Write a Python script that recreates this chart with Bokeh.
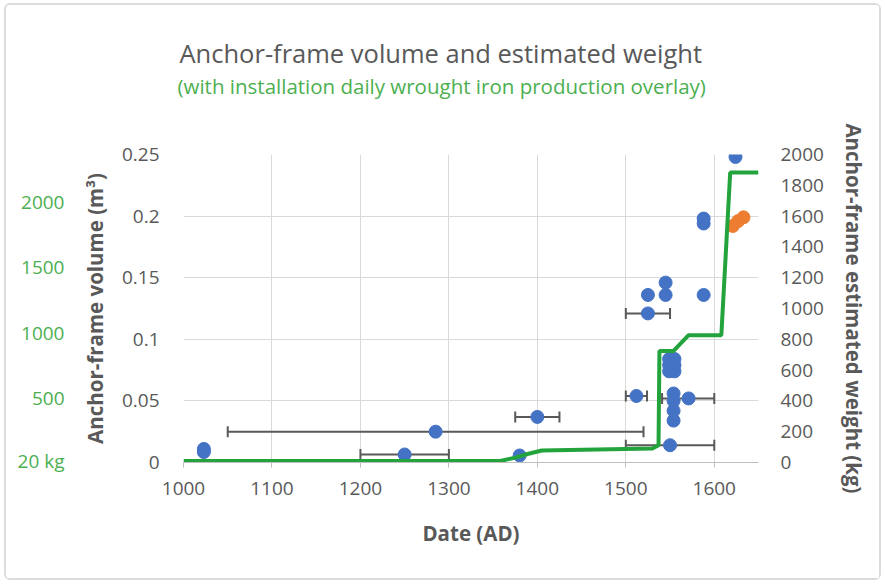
import numpy as np
from bokeh.plotting import figure
from bokeh.models import (Range1d, LinearAxis, FixedTicker, NumeralTickFormatter,
                          ColumnDataSource, Whisker, TeeHead, Title)
from bokeh.embed import file_html
from bokeh.resources import INLINE

# ---------------- data ----------------
blue_year = [1023, 1023, 1250, 1285, 1380, 1400, 1512, 1525, 1525, 1545, 1545,
             1549, 1555, 1549, 1555, 1549, 1555, 1550, 1554, 1554, 1571, 1554,
             1554, 1588, 1588, 1588, 1624]
blue_vol = [0.011, 0.0085, 0.0065, 0.025, 0.0057, 0.037, 0.054, 0.121, 0.136,
            0.136, 0.146, 0.084, 0.084, 0.079, 0.079, 0.074, 0.074, 0.014,
            0.056, 0.050, 0.052, 0.042, 0.034, 0.136, 0.194, 0.198, 0.248]

orange_year = [1621, 1627, 1633]
orange_vol = [0.192, 0.196, 0.199]

err_year = [1285, 1250, 1400, 1512, 1525, 1550, 1571]
err_vol = [0.025, 0.0065, 0.037, 0.054, 0.121, 0.014, 0.052]
err_lo = [1050, 1200, 1375, 1500, 1500, 1500, 1541]
err_hi = [1520, 1300, 1425, 1524, 1550, 1600, 1600]

iron_year = [1000, 1358, 1375, 1390, 1405, 1530, 1537, 1538, 1554, 1571, 1608, 1618, 1650]
iron_kg = [20, 20, 45, 75, 100, 115, 140, 860, 860, 980, 980, 2222, 2222]

x_ticks = [1000, 1100, 1200, 1300, 1400, 1500, 1600]
vol_ticks = [0, 0.05, 0.1, 0.15, 0.2, 0.25]
weight_ticks = [0, 200, 400, 600, 800, 1000, 1200, 1400, 1600, 1800, 2000]
iron_ticks = [20, 500, 1000, 1500, 2000]
iron_tick_labels = {20: "20 kg"}

title_text = "Anchor-frame volume and estimated weight"
subtitle_text = "(with installation daily wrought iron production overlay)"
x_title = "Date (AD)"
y_title = "Anchor-frame volume (m\u00b3)"
y2_title = "Anchor-frame estimated weight (kg)"

# ---------------- style ----------------
FONT = "Open Sans"
GRAY = "#595959"
GREEN_TXT = "#4caf50"
GREEN_LINE = "#22a33c"
BLUE = "#4472c4"
ORANGE = "#ed7d31"
GRID = "#d9d9d9"

p = figure(width=877, height=577, output_backend="svg", toolbar_location=None,
           x_range=Range1d(1000, 1650), y_range=Range1d(0, 0.25),
           min_border_left=177, min_border_right=125, min_border_top=149,
           min_border_bottom=120,
           styles={"margin-left": "4px", "margin-top": "3px",
                   "border": "2px solid #dcdcdc", "border-radius": "6px"})
p.outline_line_color = None
p.background_fill_color = "white"
p.border_fill_color = "white"

p.extra_y_ranges = {"kg": Range1d(0, 2000), "iron": Range1d(8, 2360)}

def style_title(ax):
    ax.axis_label_text_font = FONT
    ax.axis_label_text_font_size = "20.5px"
    ax.axis_label_text_font_style = "bold"
    ax.axis_label_text_color = GRAY

def bare(ax):
    ax.axis_line_color = None
    ax.major_tick_line_color = None
    ax.minor_tick_line_color = None
    ax.major_tick_out = 0
    ax.major_tick_in = 0

# x axis
xa = p.xaxis[0]
xa.ticker = FixedTicker(ticks=x_ticks)
xa.axis_line_color = "#bfbfbf"
xa.major_tick_line_color = "#bfbfbf"
xa.major_tick_out = 5
xa.major_tick_in = 0
xa.minor_tick_line_color = None
xa.major_label_standoff = 14
xa.major_label_text_font = FONT
xa.major_label_text_font_size = "19px"
xa.major_label_text_color = GRAY
xa.axis_label = x_title
xa.axis_label_standoff = 21
style_title(xa)

# left volume axis
ya = p.yaxis[0]
ya.ticker = FixedTicker(ticks=vol_ticks)
ya.formatter = NumeralTickFormatter(format="0.[00]")
bare(ya)
ya.major_label_standoff = 24
ya.major_label_text_font = FONT
ya.major_label_text_font_size = "19px"
ya.major_label_text_color = GRAY
ya.axis_label = y_title
ya.axis_label_standoff = 10
style_title(ya)

# left green iron axis (outer)
ga = LinearAxis(y_range_name="iron", ticker=FixedTicker(ticks=iron_ticks),
                major_label_overrides=iron_tick_labels)
bare(ga)
ga.major_label_standoff = 13
ga.major_label_text_font = FONT
ga.major_label_text_font_size = "19px"
ga.major_label_text_color = GREEN_TXT
p.add_layout(ga, "left")

# right weight axis (tick labels)
ra = LinearAxis(y_range_name="kg", ticker=FixedTicker(ticks=weight_ticks))
bare(ra)
ra.major_label_standoff = 22
ra.major_label_text_font = FONT
ra.major_label_text_font_size = "19px"
ra.major_label_text_color = GRAY
p.add_layout(ra, "right")

# right axis title as a side-panel title
rt = Title(text=y2_title, text_font=FONT, text_font_size="20.5px",
           text_font_style="bold", text_color=GRAY, align="center", standoff=26)
p.add_layout(rt, "right")

p.xgrid.ticker = FixedTicker(ticks=x_ticks)
p.ygrid.ticker = FixedTicker(ticks=vol_ticks)
p.xgrid.grid_line_color = GRID
p.ygrid.grid_line_color = GRID

# titles
sub = Title(text=subtitle_text, text_font=FONT, text_font_size="20.5px",
            text_font_style="normal", text_color=GREEN_TXT, align="left",
            standoff=110, offset=-6)
p.add_layout(sub, "above")
main = Title(text=title_text, text_font=FONT, text_font_size="25.5px",
             text_font_style="normal", text_color=GRAY, align="left",
             standoff=-111, offset=-4)
p.add_layout(main, "above")

# error bars
esrc = ColumnDataSource(dict(y=err_vol, lo=err_lo, hi=err_hi))
wh = Whisker(source=esrc, base="y", lower="lo", upper="hi", dimension="width",
             line_color=GRAY, line_width=2,
             lower_head=TeeHead(size=11, line_color=GRAY, line_width=2),
             upper_head=TeeHead(size=11, line_color=GRAY, line_width=2))
p.add_layout(wh)

p.scatter(blue_year, blue_vol, size=13, fill_color=BLUE, line_color=BLUE)
p.scatter(orange_year, orange_vol, size=13, fill_color=ORANGE, line_color=ORANGE)

p.line(iron_year, iron_kg, y_range_name="iron", line_color=GREEN_LINE, line_width=4)

open("out.html", "w").write(file_html(p, INLINE))
